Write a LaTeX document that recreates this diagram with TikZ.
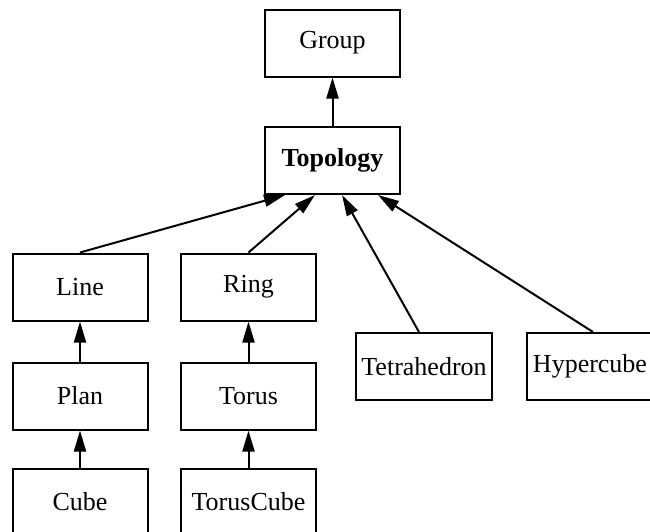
\documentclass[tikz,border=0pt]{standalone}
\usepackage{fontspec}
\setmainfont{Liberation Serif}
\usetikzlibrary{arrows.meta, positioning}

\begin{document}
\begin{tikzpicture}[x=1pt, y=-1pt, >={Triangle[length=21pt, width=12pt]},
    cls/.style={draw, line width=2pt, minimum width=135pt, minimum height=67pt,
        inner xsep=5pt, font=\fontsize{26}{30}\selectfont},
    inh/.style={->, line width=2pt}]
    % cadre de l'image
    \clip (0, 0) rectangle (650, 531);

    % les classes
    \node[cls] (Group) at (332.5, 43) {Group};
    \node[cls] (Topology) at (332.5, 160.5) {\bfseries Topology};

    \node[cls] (Line) at (80, 287) {Line};
    \node[cls] (Plan) at (80, 396) {Plan};
    \node[cls] (Cube) at (80, 502) {Cube};

    \node[cls] (Ring) at (248.5, 287) {Ring};
    \node[cls] (Torus) at (248.5, 396) {Torus};
    \node[cls] (TorusCube) at (248.5, 502) {TorusCube};

    \node[cls] (Tetrahedron) at (424, 366.5) {Tetrahedron};
    \node[cls, minimum width=126pt] (Hypercube) at (590, 366.5) {Hypercube};

    % heritage
    \draw[inh] (Topology) -- (Group);
    \draw[inh] (Line.north) -- ([xshift=-47.5pt]Topology.south);
    \draw[inh] (Ring.north) -- ([xshift=-17.5pt]Topology.south);
    \draw[inh] ([xshift=-5pt]Tetrahedron.north) -- ([xshift=9.5pt]Topology.south);
    \draw[inh] ([xshift=3pt]Hypercube.north) -- ([xshift=45.5pt]Topology.south);

    \draw[inh] (Plan) -- (Line);
    \draw[inh] (Cube) -- (Plan);
    \draw[inh] (Torus) -- (Ring);
    \draw[inh] (TorusCube) -- (Torus);

\end{tikzpicture}
\end{document}
